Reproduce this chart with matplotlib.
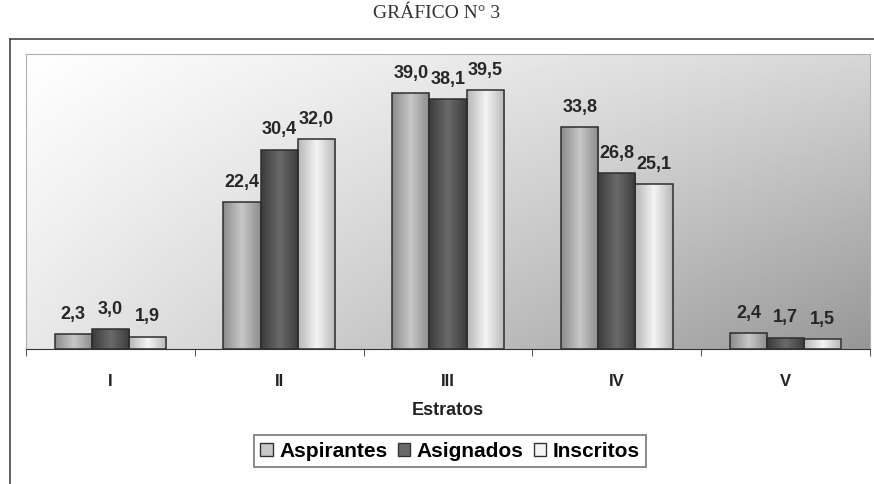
import numpy as np
import matplotlib
matplotlib.use("Agg")
import matplotlib.pyplot as plt
from matplotlib.patches import Patch
from matplotlib.colors import LinearSegmentedColormap
from matplotlib.lines import Line2D

estratos = ["I", "II", "III", "IV", "V"]
aspirantes = [2.3, 22.4, 39.0, 33.8, 2.4]
asignados = [3.0, 30.4, 38.1, 26.8, 1.7]
inscritos = [1.9, 32.0, 39.5, 25.1, 1.5]
series = [("Aspirantes", aspirantes), ("Asignados", asignados), ("Inscritos", inscritos)]

# (dark edge, light centre) of the horizontal gradient in each bar
shades = {"Aspirantes": ("#8c8c8c", "#c8c8c8"),
          "Asignados": ("#3c3c3c", "#6a6a6a"),
          "Inscritos": ("#b8b8b8", "#f4f4f4")}

plt.rcParams["font.family"] = ["Liberation Sans", "DejaVu Sans"]

fig = plt.figure(figsize=(8.74, 4.85), dpi=100)
ax = fig.add_axes([26 / 874, 1 - 350 / 485, 844 / 874, 295 / 485])
x = np.arange(len(estratos))
w = 0.22
ax.set_xlim(-0.5, len(estratos) - 0.5)
ax.set_ylim(0, 45)

# diagonal background gradient: white top-left, grey bottom-right
gy, gx = np.mgrid[0:1:200j, 0:1:200j]
shade = 1 - (0.16 * gx + 0.09 * gy + 0.16 * gx * gy)
ax.imshow(shade, cmap="gray", vmin=0, vmax=1, extent=(-0.5, 4.5, 0, 45),
          aspect="auto", zorder=0, origin="upper")

for i, (name, vals) in enumerate(series):
    off = (i - 1) * w
    bars = ax.bar(x + off, vals, w, facecolor="none", edgecolor="#2e2e2e",
                  linewidth=1.1, zorder=3)
    dark, light = shades[name]
    cm = LinearSegmentedColormap.from_list(name, [dark, light, dark])
    hg = np.linspace(0, 1, 64).reshape(1, -1)
    for b, v in zip(bars, vals):
        im = ax.imshow(hg, cmap=cm, extent=(b.get_x(), b.get_x() + w, 0, v),
                       aspect="auto", zorder=2)
        im.set_clip_path(b)
        ax.text(b.get_x() + w / 2, v + 2.5, f"{v:.1f}".replace(".", ","),
                ha="center", va="baseline", fontsize=13, fontweight="bold",
                color="#262626", zorder=4)

for s in ["top", "right", "left"]:
    ax.spines[s].set_color("#b0b0b0")
ax.spines["bottom"].set_color("#333333")
ax.set_yticks([])
ax.set_xticks(x)
ax.set_xticklabels(estratos, fontsize=12, fontweight="bold", color="#222222")
ax.tick_params(axis="x", which="major", length=0, pad=17)
ax.set_xticks(np.arange(-0.5, len(estratos)), minor=True)
ax.tick_params(axis="x", which="minor", length=5, color="#333333")
ax.set_xlabel("Estratos", fontsize=13, fontweight="bold", color="#222222", labelpad=10)

handles = [Patch(facecolor=shades[n][1], edgecolor="#333333", label=n) for n, _ in series]
leg = fig.legend(handles=handles, loc="center", bbox_to_anchor=(450 / 874, 1 - 452 / 485),
                 ncol=3, frameon=True, fancybox=False, edgecolor="#555555",
                 prop={"weight": "bold", "size": 15}, handlelength=0.6,
                 handleheight=0.6, handletextpad=0.3, columnspacing=0.5,
                 borderpad=0.3)
leg.get_frame().set_linewidth(1.2)

# outer frame lines
fig.add_artist(Line2D([10 / 874, 1], [1 - 40 / 485] * 2, color="#444444", lw=1.2))
fig.add_artist(Line2D([10 / 874] * 2, [0, 1 - 40 / 485], color="#444444", lw=1.2))

fig.text(437 / 874, 1 - 14 / 485, "GRÁFICO N° 3", ha="center", va="center",
         fontsize=14, family="Liberation Serif", color="#333333")

fig.savefig("out.png", dpi=100)
